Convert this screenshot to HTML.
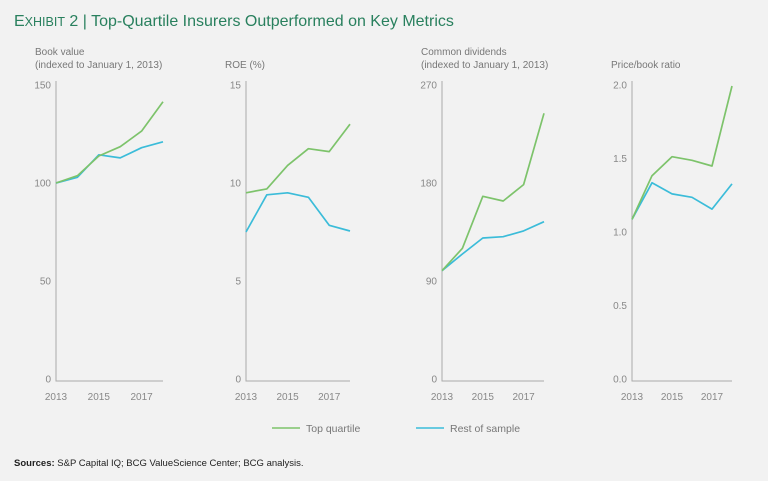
<!DOCTYPE html>
<html><head><meta charset="utf-8"><style>
body{margin:0;background:#f2f2f2;width:768px;height:481px;overflow:hidden;font-family:"Liberation Sans",sans-serif}
svg{display:block}
text{font-family:"Liberation Sans",sans-serif}
</style></head><body>
<svg id="c" width="768" height="481">
<text x="14" y="26" fill="#29805e" font-size="16"><tspan font-size="16">E</tspan><tspan font-size="12.5">XHIBIT</tspan> 2 | Top-Quartile Insurers Outperformed on Key Metrics</text>
<g>
<line x1="272" y1="428" x2="300" y2="428" stroke="#7dc36b" stroke-width="1.6"/>
<text x="306" y="432" font-size="10.5" fill="#777">Top quartile</text>
<line x1="416" y1="428" x2="444" y2="428" stroke="#3bbcd9" stroke-width="1.6"/>
<text x="450" y="432" font-size="10.5" fill="#777">Rest of sample</text>
</g>
<text x="14" y="466" font-size="9.5" fill="#222"><tspan font-weight="bold">Sources:</tspan> S&amp;P Capital IQ; BCG ValueScience Center; BCG analysis.</text>
</svg>
<script>
const years=[2013,2014,2015,2016,2017,2018];
const yearLabels=["2013","2015","2017"];
const bookTop=[100,103.7,113.8,118.5,126.5,141.5];
const bookRest=[100,102.9,114.4,112.8,118,121];
const roeTop=[9.5,9.7,10.9,11.75,11.6,13.0];
const roeRest=[7.5,9.4,9.5,9.27,7.84,7.55];
const divTop=[99.5,120,167.8,163.5,178.5,244];
const divRest=[99.5,114.8,129.5,130.7,136,144.5];
const pbTop=[1.086,1.383,1.512,1.488,1.449,1.993];
const pbRest=[1.086,1.335,1.259,1.236,1.156,1.327];
const bookTicks=[0,50,100,150];
const roeTicks=[0,5,10,15];
const divTicks=[0,90,180,270];
const pbTicks=[0,0.5,1.0,1.5,2.0];

const panels=[
 {name:"book-value",title:["Book value","(indexed to January 1, 2013)"],x0:56,x1:163,max:150,ticks:bookTicks,dec:0,top:bookTop,rest:bookRest},
 {name:"roe",title:["ROE (%)"],x0:246,x1:350,max:15,ticks:roeTicks,dec:0,top:roeTop,rest:roeRest},
 {name:"common-dividends",title:["Common dividends","(indexed to January 1, 2013)"],x0:442,x1:544,max:270,ticks:divTicks,dec:0,top:divTop,rest:divRest},
 {name:"price-book",title:["Price/book ratio"],x0:632,x1:732,max:2,ticks:pbTicks,dec:1,top:pbTop,rest:pbRest}
];
const svg=document.getElementById('c');
const NS="http://www.w3.org/2000/svg";
const yTop=85,yBot=379;
function mk(t,a,p){const e=document.createElementNS(NS,t);for(const k in a)e.setAttribute(k,a[k]);p.appendChild(e);return e;}
panels.forEach(p=>{
 const g=mk('g',{},svg);
 
 
 const xs=i=>p.x0+(years[i]-years[0])/(years[years.length-1]-years[0])*(p.x1-p.x0);
 const xy=y=>p.x0+(y-years[0])/(years[years.length-1]-years[0])*(p.x1-p.x0);
 const ys=v=>yBot-v/p.max*(yBot-yTop);
 p.title.forEach((t,i)=>{
  const tx=mk('text',{x:p.x0-21,y:(p.title.length==2?55:68)+i*13,'font-size':10,fill:'#777'},g);
  tx.textContent=t;
  
  
 });
 const ax=mk('path',{d:`M${p.x0} ${yTop-4}V${yBot+2}H${p.x1}`,stroke:'#aaa','stroke-width':1,fill:'none'},g);
 
 
 p.ticks.forEach(t=>{
  const tx=mk('text',{x:p.x0-5,y:ys(t)+3.5,'font-size':10,fill:'#888','text-anchor':'end'},g);
  tx.textContent=t.toFixed(p.dec);
  
  
 });
 yearLabels.forEach(l=>{
  const tx=mk('text',{x:xy(+l),y:400,'font-size':10,fill:'#888','text-anchor':'middle'},g);
  tx.textContent=l;
  
  
 });
 [['rest',p.rest,'#3bbcd9'],['top',p.top,'#7dc36b']].forEach(([n,d,c])=>{
  const pts=d.map((v,i)=>xs(i).toFixed(1)+','+ys(v).toFixed(1)).join(' ');
  const l=mk('polyline',{points:pts,fill:'none',stroke:c,'stroke-width':1.7,'stroke-linejoin':'round'},g);
  
  
 });
});
</script>
</body></html>
